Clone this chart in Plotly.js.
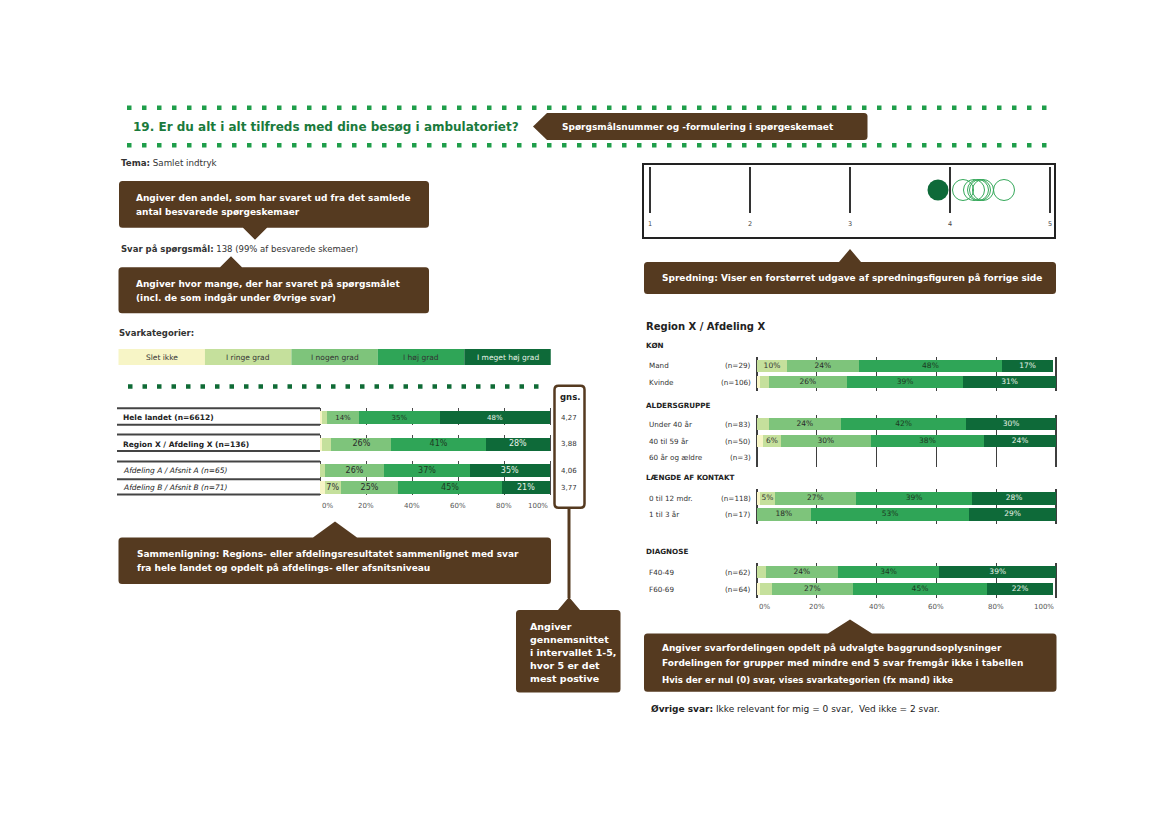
<!DOCTYPE html>
<html><head><meta charset="utf-8">
<script src="https://cdn.plot.ly/plotly-3.0.1.min.js"></script>
<style>html,body{margin:0;padding:0;background:#fff}</style>
</head><body><div id="chart" style="width:1169px;height:826px"></div>
<script>
// ---------------- DATA ----------------
const categories = ['Slet ikke','I ringe grad','I nogen grad','I høj grad','I meget høj grad'];

const compLabels = ['Hele landet (n=6612)','Region X / Afdeling X (n=136)','Afdeling A / Afsnit A (n=65)','Afdeling B / Afsnit B (n=71)'];
const compSletIkke     = [1, 1, 0, 2];
const compRingeGrad    = [2, 4, 2, 7];
const compNogenGrad    = [14, 26, 26, 25];
const compHojGrad      = [35, 41, 37, 45];
const compMegetHojGrad = [48, 28, 35, 21];
const compGns          = [4.27, 3.88, 4.06, 3.77];

const bgSections = ['KØN','KØN','ALDERSGRUPPE','ALDERSGRUPPE','ALDERSGRUPPE','LÆNGDE AF KONTAKT','LÆNGDE AF KONTAKT','DIAGNOSE','DIAGNOSE'];
const bgLabels   = ['Mand','Kvinde','Under 40 år','40 til 59 år','60 år og ældre','0 til 12 mdr.','1 til 3 år','F40-49','F60-69'];
const bgN        = [29, 106, 83, 50, 3, 118, 17, 62, 64];
const bgSletIkke     = [0, 1, 0, 2, null, 1, 0, 0, 1];
const bgRingeGrad    = [10, 3, 4, 6, null, 5, 0, 3, 4];
const bgNogenGrad    = [24, 26, 24, 30, null, 27, 18, 24, 27];
const bgHojGrad      = [48, 39, 42, 38, null, 39, 53, 34, 45];
const bgMegetHojGrad = [17, 31, 30, 24, null, 28, 29, 39, 22];

const scaleTicks = [1, 2, 3, 4, 5];
const regionMean = [3.88];
const otherMeans = [4.13, 4.24, 4.28, 4.30, 4.33, 4.54];
const pctTicks = [0, 20, 40, 60, 80, 100];

// ---------------- STYLE / LAYOUT ----------------
const W = 1169, H = 826;
const FONT = 'DejaVu Sans';
const BROWN = '#553a20';
const catColors = ['#f7f5c6','#c5e09c','#7ec47b','#2fa557','#0e6a39'];
const catText   = ['#333333','#333333','#2a2a2a','#1d3a22','#e8f3e8'];

const traces = [], shapes = [], annotations = [];
const layout = {
  width: W, height: H, margin: {l:0, r:0, t:0, b:0, pad:0},
  paper_bgcolor: '#ffffff', plot_bgcolor: 'rgba(0,0,0,0)',
  showlegend: false, hovermode: false, barmode: 'stack',
  font: {family: FONT, size: 9, color: '#333'},
  xaxis: {domain:[0,1], range:[0,W], visible:false, fixedrange:true},
  yaxis: {domain:[0,1], range:[H,0], visible:false, fixedrange:true}
};
traces.push({type:'scatter', x:[], y:[], xaxis:'x', yaxis:'y', hoverinfo:'skip', showlegend:false});

function yd(top, bottom){ return [1 - bottom/H, 1 - top/H]; }
function txt(x, y, text, o){
  o = o || {};
  annotations.push({xref:'x', yref:'y', x:x, y:y, text:text, showarrow:false,
    xanchor:o.anchor||'left', yanchor:'middle', borderpad:0,
    font:{family:FONT, size:o.size||9, color:o.color||'#333'}});
}
function callout(x0, y0, x1, y1, p){
  const r = 3.5;
  let d = `M${x0+r},${y0}`;
  if(p && p.side==='top') d += ` L${p.x-p.hw},${y0} L${p.x},${y0-p.len} L${p.x+p.hw},${y0}`;
  d += ` L${x1-r},${y0} Q${x1},${y0} ${x1},${y0+r} L${x1},${y1-r} Q${x1},${y1} ${x1-r},${y1}`;
  if(p && p.side==='bottom') d += ` L${p.x+p.hw},${y1} L${p.x},${y1+p.len} L${p.x-p.hw},${y1}`;
  d += ` L${x0+r},${y1} Q${x0},${y1} ${x0},${y1-r} L${x0},${y0+r} Q${x0},${y0} ${x0+r},${y0} Z`;
  shapes.push({type:'path', xref:'x', yref:'y', path:d, fillcolor:BROWN, line:{width:0}});
}
function hline(x0, x1, y, color, width, dash){
  shapes.push({type:'line', xref:'x', yref:'y', x0:x0, x1:x1, y0:y, y1:y, line:{color:color, width:width, dash:dash||'solid'}});
}
function pctTickLabels(xa, yPix){
  pctTicks.forEach((v, i) => {
    annotations.push({xref:xa, yref:'y', x:v, y:yPix, text:v + '%', showarrow:false,
      xanchor: i === 0 ? 'left' : (i === pctTicks.length-1 ? 'right' : 'center'), yanchor:'middle',
      font:{family:FONT, size:7, color:'#555'}});
  });
}

function barGroup(cfg){
  const rows = cfg.idx.map(i => cfg.labels[i]);
  const n = rows.length;
  const top = cfg.c0 - cfg.h/2 - cfg.extT;
  const bottom = cfg.c0 + (n-1)*cfg.step + cfg.h/2 + cfg.extB;
  layout['yaxis' + cfg.ya.slice(1)] = {
    domain: yd(top, bottom), anchor: cfg.xa, type:'category',
    categoryorder:'array', categoryarray: rows, autorange:false,
    range:[n-1 + (cfg.h/2 + cfg.extB)/cfg.step, -(cfg.h/2 + cfg.extT)/cfg.step],
    showticklabels:false, showgrid:false, zeroline:false, showline:false, ticks:'', fixedrange:true
  };
  const cum = rows.map(() => 0);
  const tx = [], ty = [], tt = [], tc = [];
  cfg.series.forEach((s, k) => {
    const vals = cfg.idx.map(i => s[i]);
    traces.push({type:'bar', orientation:'h', x:vals, y:rows, xaxis:cfg.xa, yaxis:cfg.ya,
      width: cfg.h/cfg.step, marker:{color:catColors[k], line:{width:0}},
      textposition:'none', hoverinfo:'skip', showlegend:false, name:categories[k]});
    vals.forEach((v, j) => {
      if(v == null) return;
      if(v >= 5){ tx.push(cum[j] + v/2); ty.push(rows[j]); tt.push(v + '%'); tc.push(catText[k]); }
      cum[j] += v;
    });
  });
  traces.push({type:'scatter', mode:'text', x:tx, y:ty, text:tt, xaxis:cfg.xa, yaxis:cfg.ya,
    textfont:{family:FONT, size:cfg.textSize, color:tc}, hoverinfo:'skip', showlegend:false, cliponaxis:false});
  return {top, bottom, rows, c0:cfg.c0, step:cfg.step, h:cfg.h};
}

// ---------------- HEADER ----------------
hline(127, 1052, 107.7, '#1f9e4a', 4.5, '4.5px,10.5px');
hline(127, 1052, 145.3, '#1f9e4a', 4.5, '4.5px,10.5px');
txt(132, 126.5, '<b>19. Er du alt i alt tilfreds med dine besøg i ambulatoriet?</b>', {size:12, color:'#1a7a3c'});
shapes.push({type:'path', xref:'x', yref:'y', fillcolor:BROWN, line:{width:0},
  path:'M547,113 L864,113 Q867.5,113 867.5,116.5 L867.5,136.5 Q867.5,140 864,140 L547,140 L533,126.5 Z'});
txt(561, 126.5, '<b>Spørgsmålsnummer og -formulering i spørgeskemaet</b>', {size:9, color:'#ffffff'});

// ---------------- LEFT TEXTS / CALLOUTS ----------------
txt(120, 163.3, '<b>Tema:</b> Samlet indtryk', {size:8.7});
callout(119, 181, 429, 227.7, {side:'bottom', x:255, hw:12, len:12});
txt(135, 198.3, '<b>Angiver den andel, som har svaret ud fra det samlede</b>', {color:'#fff'});
txt(135, 211.7, '<b>antal besvarede spørgeskemaer</b>', {color:'#fff'});
txt(120, 249, '<b>Svar på spørgsmål:</b> 138 (99% af besvarede skemaer)', {size:8.5});
callout(118.5, 267.3, 429, 313.3, {side:'top', x:231, hw:11, len:11});
txt(135, 284.3, '<b>Angiver hvor mange, der har svaret på spørgsmålet</b>', {color:'#fff'});
txt(135, 297.7, '<b>(incl. de som indgår under Øvrige svar)</b>', {color:'#fff'});
txt(118, 332.7, '<b>Svarkategorier:</b>', {size:8.5});

// legend strip
const legX0 = 118.5, legW = 86.45;
categories.forEach((c, k) => {
  shapes.push({type:'rect', xref:'x', yref:'y', x0:legX0 + k*legW, x1:legX0 + (k+1)*legW, y0:349, y1:365,
    fillcolor:catColors[k], line:{width:0}});
  txt(legX0 + (k+0.5)*legW, 357, c, {anchor:'center', size:7.5, color: k < 4 ? '#333' : '#e8f3e8'});
});

hline(128, 545, 386.5, '#0f6b36', 4.5, '4.5px,10px');

// ---------------- LEFT BAR CHART ----------------
const compSeries = [compSletIkke, compRingeGrad, compNogenGrad, compHojGrad, compMegetHojGrad];
const leftCfg = [
  {idx:[0], ya:'y2', c0:417.8, step:17, textSize:7},
  {idx:[1], ya:'y3', c0:444.0, step:17, textSize:8},
  {idx:[2,3], ya:'y4', c0:470.9, step:16.7, textSize:8}
];
const lx0 = 320, lx1 = 550, lUnit = (lx1 - lx0)/100;
layout.xaxis2 = {domain:[(lx0-2*lUnit)/W, (lx1+2*lUnit)/W], range:[-2,102], anchor:'y4',
  tickmode:'array', tickvals:pctTicks, showticklabels:false,
  showgrid:true, gridcolor:'#4a4a4a', gridwidth:1, zeroline:false, showline:false, ticks:'', fixedrange:true};
pctTickLabels('x2', 506);
leftCfg.forEach(g => {
  const r = barGroup({xa:'x2', ya:g.ya, idx:g.idx, labels:compLabels, series:compSeries,
    c0:g.c0, step:g.step, h:13, extT:3, extB:0.5, textSize:g.textSize});
  hline(117, lx0, r.top, '#444', 2);
  for(let j = 0; j < r.rows.length - 1; j++) hline(117, lx0, r.c0 + (j+0.5)*r.step, '#444', 2);
  hline(117, lx0, r.bottom, '#444', 2);
  g.idx.forEach((i, j) => {
    const lab = i < 2 ? '<b>' + compLabels[i] + '</b>' : '<i>' + compLabels[i] + '</i>';
    annotations.push({xref:'x', yref:g.ya, x:121, y:compLabels[i], text:lab, showarrow:false,
      xanchor:'left', yanchor:'middle', font:{family:FONT, size:7.5, color:'#222'}});
    annotations.push({xref:'x', yref:g.ya, x:569, y:compLabels[i], text:compGns[i].toFixed(2).replace('.', ','),
      showarrow:false, xanchor:'center', yanchor:'middle', font:{family:FONT, size:7, color:'#333'}});
  });
});

// gns box + stem
shapes.push({type:'line', xref:'x', yref:'y', x0:569, x1:569, y0:507, y1:598, line:{color:BROWN, width:3}});
shapes.push({type:'path', xref:'x', yref:'y', fillcolor:'#ffffff', line:{color:BROWN, width:2.5},
  path:'M558.5,385.7 L580.5,385.7 Q584.5,385.7 584.5,389.7 L584.5,503.7 Q584.5,507.7 580.5,507.7 L558.5,507.7 Q554.5,507.7 554.5,503.7 L554.5,389.7 Q554.5,385.7 558.5,385.7 Z'});
txt(569.5, 396.5, '<b>gns.</b>', {anchor:'center', size:8.5, color:'#222'});

callout(118.5, 537.5, 551, 584, {side:'top', x:335, hw:22, len:16});
txt(135.7, 554.3, '<b>Sammenligning: Regions- eller afdelingsresultatet sammenlignet med svar</b>', {color:'#fff'});
txt(135.7, 567.7, '<b>fra hele landet og opdelt på afdelings- eller afsnitsniveau</b>', {color:'#fff'});

callout(516, 610, 620.5, 692.5, {side:'top', x:569, hw:11, len:13});
['Angiver','gennemsnittet','i intervallet 1-5,','hvor 5 er det','mest postive'].forEach((l, i) => {
  txt(529, 626.7 + i*12.9, '<b>' + l + '</b>', {size:9.5, color:'#fff'});
});

// ---------------- SCATTER (SPREDNING) ----------------
shapes.push({type:'rect', xref:'x', yref:'y', x0:643, x1:1055, y0:164, y1:238, line:{color:'#222', width:2}, fillcolor:'rgba(0,0,0,0)'});
layout.xaxis4 = {domain:[640/W, 1060/W], range:[0.9, 5.1], anchor:'y9', tickmode:'array', tickvals:scaleTicks,
  showgrid:true, gridcolor:'#333', gridwidth:1.5, zeroline:false, showline:false, ticks:'',
  tickfont:{family:FONT, size:6.5, color:'#444'}, fixedrange:true, ticklabelstandoff:5};
layout.yaxis9 = {domain:yd(167, 213), anchor:'x4', range:[0,1], showticklabels:false, showgrid:false,
  zeroline:false, showline:false, ticks:'', fixedrange:true};
traces.push({type:'scatter', mode:'markers', x:otherMeans, y:otherMeans.map(() => 0.5), xaxis:'x4', yaxis:'y9',
  marker:{symbol:'circle-open', size:21, color:'#35a85a', line:{width:1, color:'#35a85a'}}, hoverinfo:'skip', cliponaxis:false});
traces.push({type:'scatter', mode:'markers', x:regionMean, y:regionMean.map(() => 0.5), xaxis:'x4', yaxis:'y9',
  marker:{size:21, color:'#0e6a39'}, hoverinfo:'skip', cliponaxis:false});

callout(644, 262, 1056, 294, {side:'top', x:850, hw:11, len:13});
txt(661, 278, '<b>Spredning: Viser en forstørret udgave af spredningsfiguren på forrige side</b>', {color:'#fff'});

// ---------------- RIGHT BAR CHART ----------------
txt(645, 326, '<b>Region X / Afdeling X</b>', {size:10, color:'#222'});
const bgSeries = [bgSletIkke, bgRingeGrad, bgNogenGrad, bgHojGrad, bgMegetHojGrad];
const sections = bgSections.filter((s, i) => bgSections.indexOf(s) === i);
const rightPos = [
  {c0:365.7, step:16.5, hy:345.7},
  {c0:424.2, step:16.8, hy:405},
  {c0:498.4, step:16.2, hy:477.3},
  {c0:572.2, step:16.9, hy:551.7}
];
const rx0 = 757, rx1 = 1056, rUnit = (rx1 - rx0)/100;
layout.xaxis3 = {domain:[(rx0-2*rUnit)/W, (rx1+2*rUnit)/W], range:[-2,102], anchor:'y8',
  tickmode:'array', tickvals:pctTicks, showticklabels:false,
  showgrid:true, gridcolor:'#3e3e3e', gridwidth:1.3, zeroline:false, showline:false, ticks:'', fixedrange:true};
pctTickLabels('x3', 606.7);
sections.forEach((sec, gi) => {
  const idx = bgSections.map((s, i) => s === sec ? i : -1).filter(i => i >= 0);
  const ya = 'y' + (5 + gi);
  const p = rightPos[gi];
  barGroup({xa:'x3', ya:ya, idx:idx, labels:bgLabels, series:bgSeries,
    c0:p.c0, step:p.step, h:12.4, extT:3, extB:3, textSize:7.5});
  txt(645, p.hy, '<b>' + sec + '</b>', {size:7.2, color:'#222'});
  idx.forEach(i => {
    annotations.push({xref:'x', yref:ya, x:647, y:bgLabels[i], text:bgLabels[i], showarrow:false,
      xanchor:'left', yanchor:'middle', font:{family:FONT, size:7.2, color:'#333'}});
    annotations.push({xref:'x', yref:ya, x:752.5, y:bgLabels[i], text:'(n=' + bgN[i] + ')', showarrow:false,
      xanchor:'right', yanchor:'middle', font:{family:FONT, size:7.2, color:'#333'}});
  });
});

callout(644, 633.5, 1056.5, 691.7, {side:'top', x:850, hw:22, len:14});
txt(661, 648.3, '<b>Angiver svarfordelingen opdelt på udvalgte baggrundsoplysninger</b>', {color:'#fff'});
txt(661, 663.3, '<b>Fordelingen for grupper med mindre end 5 svar fremgår ikke i tabellen</b>', {color:'#fff'});
txt(661, 679.5, '<b>Hvis der er nul (0) svar, vises svarkategorien (fx mand) ikke</b>', {size:8.6, color:'#fff'});

txt(650, 709.3, '<b>Øvrige svar:</b> Ikke relevant for mig = 0 svar,  Ved ikke = 2 svar.', {size:9, color:'#222'});

layout.shapes = shapes;
layout.annotations = annotations;
Plotly.newPlot('chart', traces, layout, {staticPlot:true, displayModeBar:false});
</script>
</body></html>
